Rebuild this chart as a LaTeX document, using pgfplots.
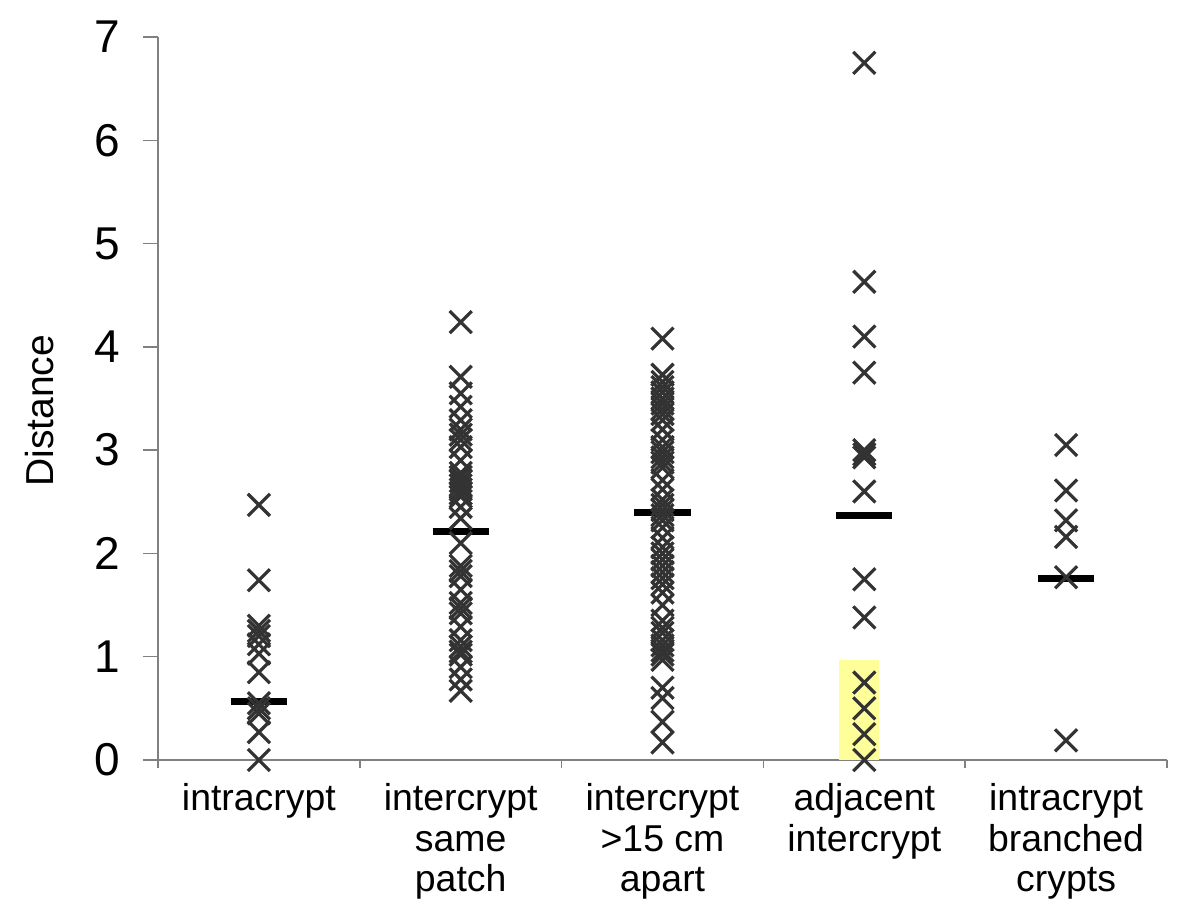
\documentclass[border=0pt]{standalone}
\usepackage{fontspec}
\setmainfont{Liberation Sans}
\usepackage{pgfplots}
\pgfplotsset{compat=1.18}
\definecolor{markc}{HTML}{333333}
\definecolor{hl}{HTML}{FFFF99}
\definecolor{axc}{HTML}{808080}
\begin{document}
\begin{tikzpicture}
\path[use as bounding box] (-79bp,-76bp) rectangle (521bp,380bp);
\begin{axis}[
  at={(0,0)}, anchor=south west,
  scale only axis, width=504.5bp, height=361.5bp,
  xmin=0.5, xmax=5.5, ymin=0, ymax=7,
  axis lines*=left,
  axis line style={draw=axc, line width=0.75bp},
  clip=false,
  tick align=outside,
  major tick length=7.5bp,
  minor tick length=4bp,
  ytick={0,...,7},
  ytick style={draw=axc, line width=0.75bp},
  xtick={1,...,5},
  xticklabels={intracrypt,intercrypt\\same\\patch,intercrypt\\>15 cm\\apart,adjacent\\intercrypt,intracrypt\\branched\\crypts},
  major x tick style={draw=none},
  minor xtick={0.5,1.5,...,5.5},
  minor x tick style={draw=axc, line width=0.75bp},
  /pgf/number format/assume math mode=true,
  yticklabel style={font=\fontsize{23bp}{25bp}\selectfont, anchor=east, inner sep=0pt, xshift=-11.5bp},
  xticklabel style={font=\fontsize{18.7bp}{20.3bp}\selectfont, align=center, anchor=north, inner sep=0pt, yshift=-4bp},
  ylabel={Distance},
  ylabel style={font=\fontsize{19.5bp}{21bp}\selectfont, at={(axis description cs:-0.117,0.483)}, anchor=center},
]
% highlight
\addplot[fill=hl, draw=none] coordinates {(3.876,0) (4.074,0) (4.074,0.97) (3.876,0.97)} -- cycle;
% points
\pgfplotsset{every axis plot/.append style={}}
\addplot[only marks, mark=x, mark size=7.8bp, mark options={draw=markc, line width=1.6bp}] coordinates {
(1,2.47) (1,1.74) (1,1.3) (1,1.25) (1,1.2) (1,1.12) (1,1.03) (1,0.85) (1,0.55) (1,0.5) (1,0.45) (1,0.27) (1,0)
};
\addplot[only marks, mark=x, mark size=7.8bp, mark options={draw=markc, line width=1.6bp}] coordinates {
(2,4.24) (2,3.71) (2,3.55) (2,3.42) (2,3.29) (2,3.2) (2,3.15) (2,3.1) (2,3.03) (2,2.9) (2,2.78) (2,2.74) (2,2.7) (2,2.66) (2,2.62) (2,2.58) (2,2.55) (2,2.45) (2,2.34) (2,2.1) (2,1.88) (2,1.83) (2,1.78) (2,1.65) (2,1.52) (2,1.47) (2,1.42) (2,1.29) (2,1.16) (2,1.1) (2,1.05) (2,1.02) (2,0.9) (2,0.78) (2,0.67)
};
\addplot[only marks, mark=x, mark size=7.8bp, mark options={draw=markc, line width=1.6bp}] coordinates {
(3,4.08) (3,3.73) (3,3.66) (3,3.61) (3,3.56) (3,3.5) (3,3.45) (3,3.4) (3,3.35) (3,3.29) (3,3.2) (3,3.1) (3,3.03) (3,2.98) (3,2.93) (3,2.88) (3,2.83) (3,2.71) (3,2.62) (3,2.52) (3,2.47) (3,2.42) (3,2.37) (3,2.32) (3,2.25) (3,2.15) (3,2.06) (3,2.0) (3,1.94) (3,1.88) (3,1.82) (3,1.76) (3,1.7) (3,1.62) (3,1.5) (3,1.35) (3,1.28) (3,1.23) (3,1.16) (3,1.11) (3,1.06) (3,1.02) (3,0.97) (3,0.7) (3,0.6) (3,0.37) (3,0.17)
};
\addplot[only marks, mark=x, mark size=7.8bp, mark options={draw=markc, line width=1.6bp}] coordinates {
(4,6.75) (4,4.63) (4,4.1) (4,3.75) (4,3.0) (4,2.96) (4,2.93) (4,2.6) (4,1.75) (4,1.38) (4,0.75) (4,0.5) (4,0.25) (4,0)
};
\addplot[only marks, mark=x, mark size=7.8bp, mark options={draw=markc, line width=1.6bp}] coordinates {
(5,3.05) (5,2.61) (5,2.32) (5,2.16) (5,1.77) (5,0.19)
};
% medians
\addplot[black, line width=3.4bp] coordinates {(0.861,0.57) (1.139,0.57)};
\addplot[black, line width=3.4bp] coordinates {(1.861,2.21) (2.139,2.21)};
\addplot[black, line width=3.4bp] coordinates {(2.861,2.40) (3.139,2.40)};
\addplot[black, line width=3.4bp] coordinates {(3.861,2.37) (4.139,2.37)};
\addplot[black, line width=3.4bp] coordinates {(4.861,1.76) (5.139,1.76)};
\end{axis}
\end{tikzpicture}
\end{document}
